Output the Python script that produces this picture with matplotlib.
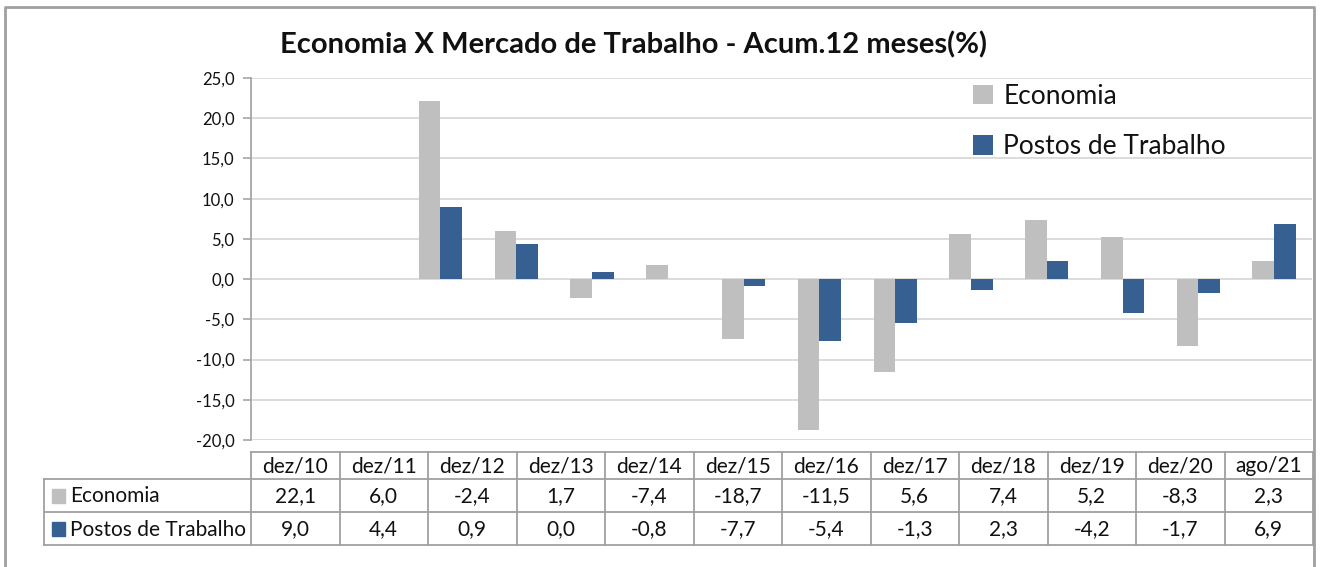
import numpy as np
import matplotlib
matplotlib.use("Agg")
import matplotlib.pyplot as plt
from matplotlib.patches import Rectangle
from matplotlib.lines import Line2D

plt.rcParams['font.family'] = ['Lato', 'DejaVu Sans']

# ---------------- data ----------------
periods = ["dez/10", "dez/11", "dez/12", "dez/13", "dez/14", "dez/15",
           "dez/16", "dez/17", "dez/18", "dez/19", "dez/20", "ago/21"]
economia = [22.1, 6.0, -2.4, 1.7, -7.4, -18.7, -11.5, 5.6, 7.4, 5.2, -8.3, 2.3]
postos = [9.0, 4.4, 0.9, 0.0, -0.8, -7.7, -5.4, -1.3, 2.3, -4.2, -1.7, 6.9]
series_names = ["Economia", "Postos de Trabalho"]
# the chart's category axis holds two empty leading categories
n_empty_leading = 2
title = "Economia X Mercado de Trabalho - Acum.12 meses(%)"
yticks = [-20, -15, -10, -5, 0, 5, 10, 15, 20, 25]

# ---------------- style ----------------
C_GRAY = "#BFBFBF"
C_BLUE = "#376092"
C_GRID = "#D9D9D9"
C_AXIS = "#A6A6A6"
C_TABLE = "#A0A0A0"
C_BORDER = "#A0A0A0"
C_TEXT = "#111111"

W, H = 1320, 567
fig = plt.figure(figsize=(W / 100, H / 100), dpi=100)

# overlay in pixel coordinates
ov = fig.add_axes([0, 0, 1, 1])
ov.set_xlim(0, W)
ov.set_ylim(H, 0)
ov.axis("off")

# plot area in pixels
pl, pr, pt, pb = 251, 1312, 78, 440
ax = fig.add_axes([pl / W, (H - pb) / H, (pr - pl) / W, (pb - pt) / H])

ncat = len(periods) + n_empty_leading
econ_full = [np.nan] * n_empty_leading + economia
post_full = [np.nan] * n_empty_leading + postos
x = np.arange(ncat)
bw = 1 / 3.5
ax.bar(x - bw / 2, econ_full, bw, color=C_GRAY, label=series_names[0], zorder=3)
ax.bar(x + bw / 2, post_full, bw, color=C_BLUE, label=series_names[1], zorder=3)

ax.set_xlim(-0.5, ncat - 0.5)
ax.set_ylim(min(yticks), max(yticks))
ax.set_yticks(yticks)
ax.set_yticklabels([f"{v:.1f}".replace(".", ",") for v in yticks])
ax.set_xticks([])
ax.grid(axis="y", color=C_GRID, linewidth=1.3, zorder=0)
for s in ["top", "right", "bottom"]:
    ax.spines[s].set_visible(False)
ax.spines["left"].set_color(C_AXIS)
ax.spines["left"].set_linewidth(1.3)
ax.tick_params(axis="y", length=6, width=1.2, color=C_AXIS, labelsize=12,
               labelcolor=C_TEXT, pad=6)

leg = ax.legend(loc="upper left", bbox_to_anchor=(973 / W, (H - 84) / H),
                bbox_transform=fig.transFigure, frameon=False, fontsize=19,
                handlelength=0.75, handleheight=0.75, handletextpad=0.4,
                labelspacing=0.95, borderpad=0, borderaxespad=0)
for t in leg.get_texts():
    t.set_color(C_TEXT)

fig.text(633 / W, 1 - 45 / H, title, ha="center", va="center",
         fontsize=21, fontweight="bold", color=C_TEXT)

# ---------------- data table ----------------
tx0, tx1 = 251, 1313
lab_x0 = 44
r0, r1, r2, r3 = 452, 479, 512, 545
ncol = len(periods)
cw = (tx1 - tx0) / ncol
lw = 1.3
ov.add_line(Line2D([tx0, tx1], [r0, r0], color=C_TABLE, lw=lw))
for yy in (r1, r2, r3):
    ov.add_line(Line2D([lab_x0, tx1], [yy, yy], color=C_TABLE, lw=lw))
ov.add_line(Line2D([lab_x0, lab_x0], [r1, r3], color=C_TABLE, lw=lw))
for i in range(ncol + 1):
    xx = tx0 + i * cw
    ov.add_line(Line2D([xx, xx], [r0, r3], color=C_TABLE, lw=lw))

tfs = 15
for i, p in enumerate(periods):
    cx = tx0 + (i + 0.5) * cw
    ov.text(cx, (r0 + r1) / 2 + 1, p, ha="center", va="center", fontsize=tfs, color=C_TEXT)
    ov.text(cx, (r1 + r2) / 2 + 1, f"{economia[i]:.1f}".replace(".", ","),
            ha="center", va="center", fontsize=tfs, color=C_TEXT)
    ov.text(cx, (r2 + r3) / 2 + 1, f"{postos[i]:.1f}".replace(".", ","),
            ha="center", va="center", fontsize=tfs, color=C_TEXT)

for j, (name, col) in enumerate(zip(series_names, [C_GRAY, C_BLUE])):
    ya, yb = (r1, r2) if j == 0 else (r2, r3)
    ym = (ya + yb) / 2
    ov.add_patch(Rectangle((52, ym - 7), 13, 14, color=col))
    ov.text(70, ym + 1, name, ha="left", va="center", fontsize=tfs, color=C_TEXT)

# outer border
ov.add_line(Line2D([5, 5, 1314, 1314], [H, 7, 7, H], color=C_BORDER, lw=2))

fig.savefig("out.png", dpi=100)
